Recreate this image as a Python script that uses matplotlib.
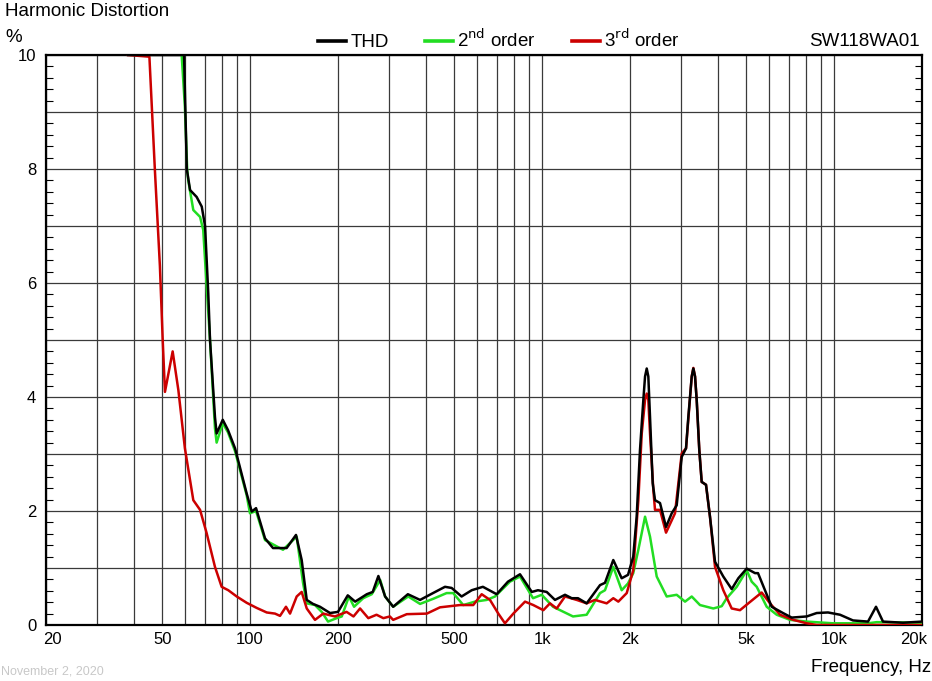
import matplotlib
matplotlib.use("Agg")
import matplotlib.pyplot as plt
import matplotlib.transforms as mtransforms
from matplotlib.ticker import FixedLocator, NullFormatter

plt.rcParams["font.family"] = ["Liberation Sans", "DejaVu Sans"]

# DATA

thd_freq = [38.2, 59.4, 60.7, 62.3, 65.6, 68.3, 70.1, 71.9, 72.9, 75.8, 76.8, 80.6, 84.0, 88.8,
            97.3, 101.3, 104.8, 112.5, 119.8, 128.3, 133.4, 143.6, 150.2, 156.3, 164.2, 173.5,
            187.8, 200, 216, 229, 251, 263, 275, 290, 309, 347, 382, 423, 465, 490, 530, 574,
            627, 699, 764, 840, 922, 968, 1037, 1107, 1198, 1263, 1327, 1421, 1579, 1642, 1753,
            1873, 1969, 2052, 2108, 2164, 2222, 2252, 2282, 2311, 2342, 2392, 2436, 2534, 2657,
            2779, 2890, 3007, 3111, 3168, 3254, 3296, 3340, 3384, 3454, 3520, 3642, 3758, 3910,
            4174, 4460, 4699, 5020, 5360, 5488, 6114, 6683, 7158, 8058, 8718, 9531, 10479,
            11608, 13066, 13916, 14705, 17215, 20000]
thd_val = [10, 10, 8.0, 7.63, 7.51, 7.34, 7.0, 5.82, 5.0, 3.65, 3.36, 3.6, 3.42, 3.1,
           2.31, 1.99, 2.05, 1.52, 1.35, 1.35, 1.35, 1.58, 1.14, 0.44, 0.37, 0.32,
           0.21, 0.23, 0.52, 0.41, 0.54, 0.58, 0.86, 0.50, 0.32, 0.54, 0.44, 0.56, 0.67, 0.65, 0.50, 0.61,
           0.67, 0.54, 0.76, 0.89, 0.58, 0.61, 0.58, 0.44, 0.53, 0.47, 0.47, 0.38, 0.70, 0.74, 1.14,
           0.82, 0.88, 1.2, 1.9, 3.07, 3.95, 4.36, 4.5, 4.36, 3.65, 2.49, 2.19, 2.14, 1.72,
           1.96, 2.10, 2.95, 3.10, 3.65, 4.36, 4.5, 4.36, 3.95, 3.07, 2.51, 2.46, 1.90, 1.11,
           0.85, 0.63, 0.82, 0.99, 0.91, 0.91, 0.32, 0.21, 0.13, 0.15, 0.21, 0.22, 0.18,
           0.08, 0.06, 0.32, 0.06, 0.04, 0.06]

h2_freq = [58.3, 59.8, 60.9, 61.4, 63.9, 67.4, 69.1, 71.0, 72.9, 75.8, 76.8, 80.6, 84.0, 88.8,
           97.3, 99.9, 104.8, 112.5, 129.6, 144.4, 151.8, 156.3, 166.8, 175.9, 184.9, 197.9,
           206, 218, 227, 244, 261, 279, 290, 309, 348, 382, 424, 471, 496, 537, 589, 646, 690,
           776, 840, 931, 997, 1090, 1276, 1421, 1579, 1642, 1753, 1873, 1969, 2052, 2136, 2252,
           2342, 2469, 2671, 2890, 3087, 3254, 3473, 3858, 4122, 4288, 4640, 5020, 5222, 5432,
           5878, 6360, 7062, 8058, 9914, 13066, 14000, 20000]
h2_val = [10, 9.09, 7.98, 7.8, 7.28, 7.16, 6.93, 5.94, 5.0, 3.45, 3.2, 3.54, 3.38, 3.05,
          2.28, 1.96, 2.0, 1.49, 1.32, 1.55, 0.74, 0.38, 0.35, 0.23, 0.06, 0.12,
          0.15, 0.50, 0.32, 0.47, 0.54, 0.79, 0.50, 0.32, 0.50, 0.37, 0.46, 0.56, 0.56, 0.35, 0.41, 0.44, 0.50,
          0.76, 0.85, 0.47, 0.53, 0.32, 0.15, 0.18, 0.56, 0.61, 1.02, 0.61, 0.73, 0.91, 1.32, 1.90,
          1.55, 0.85, 0.50, 0.53, 0.41, 0.50, 0.35, 0.29, 0.33, 0.47, 0.67, 0.96, 0.76, 0.67,
          0.32, 0.18, 0.09, 0.06, 0.03, 0.03, 0.05, 0.04]

h3_freq = [38.2, 45.2, 47.2, 49.1, 50.2, 51.1, 54.3, 56.8, 59.8, 63.9, 67.4, 71.0, 75.8, 79.9,
           84.2, 90.0, 97.3, 105.3, 114.0, 121.7, 126.6, 132.7, 137.0, 144.4, 150.2, 156.3,
           166.8, 178.1, 195.3, 214, 226, 238, 254, 271, 286, 301, 309, 344, 403, 447, 523, 581,
           621, 663, 708, 746, 797, 874, 933, 1010, 1064, 1122, 1198, 1314, 1421, 1517, 1664,
           1753, 1824, 1949, 2052, 2136, 2194, 2252, 2282, 2311, 2342, 2404, 2436, 2534, 2657,
           2852, 3007, 3111, 3254, 3296, 3340, 3384, 3454, 3520, 3642, 3758, 3910, 4174, 4460,
           4761, 5084, 5649, 6033, 6528, 7248, 8058, 8718, 20000]
h3_val = [10, 9.97, 7.98, 6.3, 5.0, 4.09, 4.80, 4.12, 3.1, 2.19, 2.02, 1.61, 1.02, 0.67,
          0.61, 0.50, 0.39, 0.30, 0.22, 0.20, 0.16, 0.32, 0.20, 0.50, 0.58, 0.29,
          0.09, 0.20, 0.15, 0.23, 0.15, 0.29, 0.12, 0.18, 0.12, 0.15, 0.09, 0.19, 0.20, 0.31, 0.35, 0.35,
          0.54, 0.44, 0.20, 0.03, 0.20, 0.41, 0.35, 0.26, 0.38, 0.29, 0.50, 0.44, 0.38, 0.44, 0.38,
          0.47, 0.41, 0.56, 0.96, 2.19, 3.36, 3.95, 4.06, 3.95, 3.36, 2.37, 2.02, 2.02, 1.62,
          1.96, 3.01, 3.1, 4.36, 4.51, 4.36, 3.95, 3.07, 2.51, 2.46, 1.90, 1.02, 0.61, 0.29,
          0.26, 0.38, 0.57, 0.38, 0.18, 0.09, 0.03, 0.0, 0.0]

x_ticks = [20, 50, 100, 200, 500, 1000, 2000, 5000, 10000, 20000]
x_labels = ["20", "50", "100", "200", "500", "1k", "2k", "5k", "10k", "20k"]
y_ticks = [0, 2, 4, 6, 8, 10]

# PLOT

fig = plt.figure(figsize=(9.32, 6.81), dpi=100)
ax = fig.add_axes([46 / 932, 56 / 681, 876 / 932, 570 / 681])

grid_col = "#3a3a3a"
ax.plot(thd_freq, thd_val, color="black", lw=1.8, label="THD", zorder=5, solid_joinstyle="round")
ax.plot(h2_freq, h2_val, color="#22dd22", lw=1.8, label="2$^{\\rm nd}$ order", zorder=3, solid_joinstyle="round")
ax.plot(h3_freq, h3_val, color="#cc0000", lw=1.8, label="3$^{\\rm rd}$ order", zorder=4, solid_joinstyle="round")

ax.set_xscale("log")
ax.set_xlim(20, 20000)
ax.set_ylim(0, 10)

ax.xaxis.set_major_locator(FixedLocator(x_ticks))
ax.set_xticklabels(x_labels)
minor_x = [m * 10 ** e for e in range(1, 5) for m in range(2, 10)]
minor_x = [v for v in minor_x if 20 <= v <= 20000 and v not in x_ticks]
ax.xaxis.set_minor_locator(FixedLocator(minor_x))
ax.xaxis.set_minor_formatter(NullFormatter())

ax.yaxis.set_major_locator(FixedLocator(list(range(0, 11))))
ax.set_yticklabels([str(v) if v in y_ticks else "" for v in range(0, 11)])
ax.yaxis.set_minor_locator(FixedLocator([i * 0.2 for i in range(51)]))

ax.grid(True, which="major", color=grid_col, lw=0.9)
ax.grid(True, which="minor", axis="x", color=grid_col, lw=0.9)

ax.tick_params(axis="x", which="both", length=0, labelsize=12, pad=5)
ax.tick_params(axis="y", which="major", length=0, labelsize=12, pad=7)
ax.tick_params(axis="y", which="minor", direction="in", length=5, left=True, right=True, width=0.8)

# end labels are nudged inwards, like the reference
xl = ax.get_xticklabels()
xl[0].set_transform(xl[0].get_transform() + mtransforms.ScaledTranslation(0.06, 0, fig.dpi_scale_trans))
xl[-1].set_transform(xl[-1].get_transform() + mtransforms.ScaledTranslation(-0.08, 0, fig.dpi_scale_trans))

for s in ax.spines.values():
    s.set_linewidth(1.6)
    s.set_color("black")

leg = ax.legend(loc="center", bbox_to_anchor=(0.517, 1.026), ncol=3, frameon=False, fontsize=13.5,
                handlelength=1.5, handletextpad=0.25, columnspacing=1.9, borderaxespad=0)
for ln in leg.get_lines():
    ln.set_linewidth(2.6)

fig.text(5 / 932, 1 - 12 / 681, "Harmonic Distortion", fontsize=13.5, ha="left", va="center")
fig.text(5 / 932, 1 - 37 / 681, "%", fontsize=13.5, ha="left", va="center")
fig.text(920 / 932, 1 - 42 / 681, "SW118WA01", fontsize=13.5, ha="right", va="center")
fig.text(931 / 932, 1 - 667 / 681, "Frequency, Hz", fontsize=13.5, ha="right", va="center")
fig.text(1 / 932, 1 - 672 / 681, "November 2, 2020", fontsize=9, color="#c8c8c8", ha="left", va="center")

fig.savefig("out.png", dpi=100)
